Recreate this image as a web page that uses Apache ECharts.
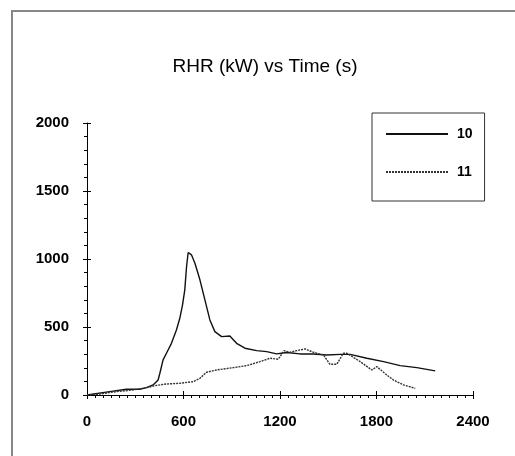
<!DOCTYPE html>
<html>
<head>
<meta charset="utf-8">
<script src="https://cdn.jsdelivr.net/npm/echarts@6/dist/echarts.min.js"></script>
<style>
html,body{margin:0;padding:0;background:#fff;}
#chart{width:515px;height:456px;}
</style>
</head>
<body>
<div id="chart"></div>
<script>
// test 10 (solid line): time s, RHR kW
var time10 = [0, 141, 245, 328, 370, 411, 442, 453, 473, 494, 525, 556, 577, 594, 608, 619, 629, 650, 671, 702, 733, 764, 795, 837, 888, 930, 982, 1055, 1117, 1179, 1241, 1324, 1408, 1490, 1574, 1636, 1740, 1844, 1947, 2051, 2165];
var rhr10 = [0, 25, 42, 42, 54, 74, 110, 160, 258, 307, 380, 478, 564, 663, 773, 945, 1048, 1030, 969, 847, 699, 552, 466, 429, 434, 380, 344, 326, 319, 302, 312, 302, 302, 294, 299, 299, 270, 245, 216, 201, 177];
// test 11 (dotted line)
var time11 = [0, 79, 183, 286, 370, 432, 494, 577, 660, 702, 743, 805, 909, 993, 1075, 1137, 1189, 1225, 1262, 1303, 1356, 1408, 1470, 1511, 1553, 1594, 1616, 1699, 1771, 1802, 1864, 1906, 1968, 2041];
var rhr11 = [0, 7, 25, 37, 54, 71, 81, 86, 98, 123, 167, 184, 201, 216, 245, 270, 263, 326, 314, 326, 339, 314, 294, 226, 226, 307, 307, 245, 184, 209, 147, 110, 74, 49];
var seriesNames = ['10', '11'];
var xTicks = [0, 600, 1200, 1800, 2400];
var yTicks = [0, 500, 1000, 1500, 2000];

function pairs(xs, ys) {
	var out = [];
	for (var i = 0; i < xs.length; i++) {
		out.push([xs[i], ys[i]]);
	}
	return out;
}

var myChart = echarts.init(document.getElementById('chart'));
var labelStyle = {fontFamily: 'Liberation Sans', fontWeight: 'bold', fontSize: 15, color: '#000', formatter: function (v) { return String(v); }};
var option = {
	backgroundColor: '#fff',
	animation: false,
	graphic: [{
		type: 'rect',
		shape: {x: 12, y: 11, width: 600, height: 600},
		style: {fill: 'none', stroke: '#888', lineWidth: 2}
	}],
	title: {
		text: 'RHR (kW) vs Time (s)',
		left: 260,
		top: 52,
		textAlign: 'center',
		textStyle: {fontFamily: 'Liberation Sans', fontWeight: 'normal', fontSize: 19, color: '#000'}
	},
	legend: {
		orient: 'vertical',
		left: 372,
		top: 113,
		padding: [14, 12, 22, 13],
		itemGap: 24,
		itemWidth: 62,
		itemHeight: 14,
		borderColor: '#333',
		borderWidth: 1,
		data: seriesNames.map(function (n) { return {name: n, itemStyle: {opacity: 0}}; }),
		textStyle: {fontFamily: 'Liberation Sans', fontWeight: 'bold', fontSize: 14, color: '#000', padding: [0, 0, 0, 4]}
	},
	grid: {left: 87, right: 42, top: 123, bottom: 61},
	xAxis: [{
		type: 'value',
		min: 0,
		max: 2400,
		interval: 600,
		axisLine: {lineStyle: {color: '#000', width: 1}},
		axisTick: {show: true, length: 4, lineStyle: {color: '#000'}},
		minorTick: {show: true, splitNumber: 12, length: 3, lineStyle: {color: '#000'}},
		splitLine: {show: false},
		axisLabel: Object.assign({margin: 19}, labelStyle)
	}, {
		type: 'value',
		min: 0,
		max: 2400,
		interval: 600,
		position: 'bottom',
		axisLine: {show: false},
		axisTick: {show: true, inside: true, length: 4, lineStyle: {color: '#000'}},
		splitLine: {show: false},
		axisLabel: {show: false}
	}],
	yAxis: [{
		type: 'value',
		min: 0,
		max: 2000,
		interval: 500,
		axisLine: {show: true, lineStyle: {color: '#000', width: 1}},
		axisTick: {show: true, length: 4, lineStyle: {color: '#000'}},
		minorTick: {show: true, splitNumber: 5, length: 3, lineStyle: {color: '#000'}},
		splitLine: {show: false},
		axisLabel: Object.assign({margin: 18}, labelStyle)
	}, {
		type: 'value',
		min: 0,
		max: 2000,
		interval: 500,
		position: 'left',
		axisLine: {show: false},
		axisTick: {show: true, inside: true, length: 4, lineStyle: {color: '#000'}},
		splitLine: {show: false},
		axisLabel: {show: false}
	}],
	series: [{
		name: seriesNames[0],
		type: 'line',
		symbol: 'none',
		data: pairs(time10, rhr10),
		lineStyle: {color: '#111', width: 1.4},
		itemStyle: {color: '#111'}
	}, {
		name: seriesNames[1],
		type: 'line',
		symbol: 'none',
		data: pairs(time11, rhr11),
		lineStyle: {color: '#333', width: 1.4, type: [2, 1]},
		itemStyle: {color: '#333'}
	}]
};
myChart.setOption(option);
</script>
</body>
</html>
